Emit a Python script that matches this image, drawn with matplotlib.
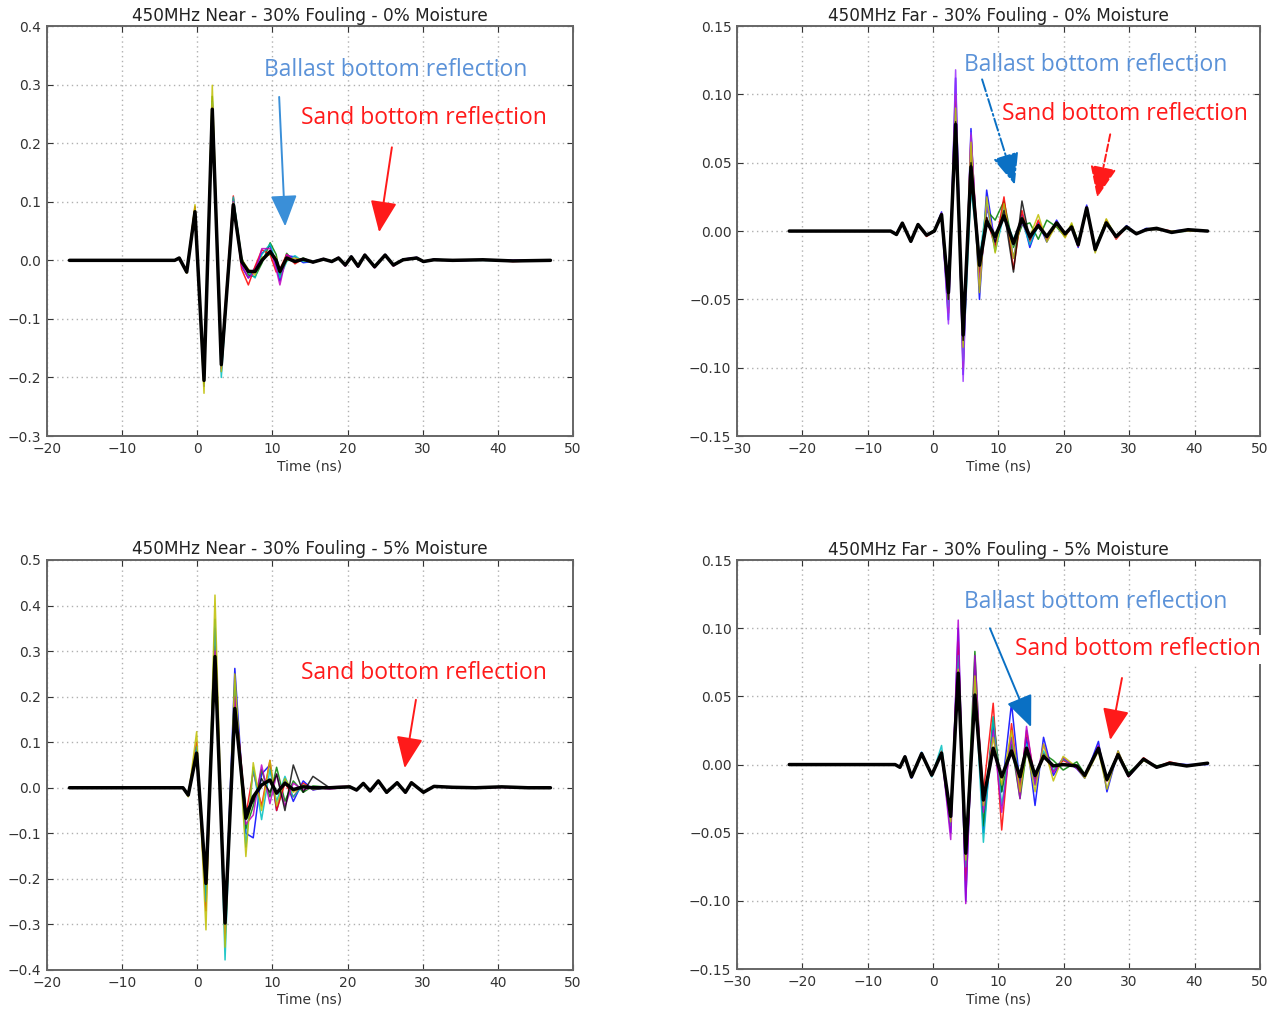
import matplotlib.pyplot as plt

# ---- data (time in ns, amplitude) ----

# 450MHz Near - 0% moisture
t_near0 = [-17, -3.0, -2.4, -1.4, -0.3, 0.9, 2.0, 3.2, 4.8, 5.9, 6.8, 7.7, 8.6, 9.7,
           10.5, 11.0, 11.9, 13.0, 14.1, 15.4, 16.8, 17.9, 18.8, 19.7, 20.5, 21.4,
           22.3, 23.6, 25.0, 26.1, 27.4, 29.2, 30.1, 31.5, 34, 38, 42, 47]
near0_mean = [0, 0, 0.004, -0.02, 0.083, -0.205, 0.258, -0.178, 0.095, -0.002, -0.019,
              -0.019, 0.0, 0.015, 0.0, -0.019, 0.004, -0.002, 0.002, -0.003, 0.002,
              -0.002, 0.004, -0.008, 0.006, -0.010, 0.009, -0.011, 0.009, -0.008,
              0.001, 0.004, -0.002, 0.001, 0.0, 0.001, -0.001, 0]
near0_traces = {
    "b": [0, 0, 0.003, -0.021, 0.088, -0.215, 0.272, -0.19, 0.10, -0.01, -0.03, -0.012,
          0.012, 0.025, -0.01, -0.035, 0.008, 0.006, -0.004, -0.002, 0.003, -0.003,
          0.005, -0.009, 0.007, -0.011, 0.010, -0.012, 0.010, -0.009, 0.002, 0.005,
          -0.003, 0.002, -0.001, 0.001, 0.0, 0],
    "g": [0, 0, 0.004, -0.019, 0.09, -0.21, 0.28, -0.185, 0.105, 0.005, -0.025, -0.028,
          -0.005, 0.03, 0.01, -0.025, 0.012, -0.004, 0.004, -0.004, 0.002, -0.001,
          0.004, -0.007, 0.006, -0.009, 0.008, -0.010, 0.008, -0.007, 0.002, 0.003,
          -0.002, 0.002, 0.0, 0.001, -0.001, 0],
    "r": [0, 0, 0.004, -0.02, 0.092, -0.2, 0.265, -0.17, 0.11, -0.015, -0.042, -0.01,
          0.018, 0.01, -0.02, -0.015, 0.01, -0.006, 0.003, -0.003, 0.003, -0.002,
          0.005, -0.009, 0.006, -0.011, 0.010, -0.012, 0.009, -0.009, 0.001, 0.004,
          -0.002, 0.001, 0.001, 0.001, -0.002, 0],
    "c": [0, 0, 0.004, -0.02, 0.085, -0.198, 0.27, -0.2, 0.108, 0.0, -0.02, -0.03,
          0.01, 0.028, -0.005, -0.03, -0.002, 0.008, -0.002, -0.002, 0.002, -0.002,
          0.004, -0.008, 0.007, -0.010, 0.009, -0.011, 0.009, -0.008, 0.002, 0.004,
          -0.003, 0.001, 0.0, 0.0, -0.001, 0],
    "m": [0, 0, 0.003, -0.021, 0.08, -0.205, 0.262, -0.185, 0.1, -0.008, -0.03, -0.02,
          0.02, 0.02, -0.015, -0.042, 0.01, 0.0, 0.003, -0.004, 0.003, -0.003,
          0.005, -0.010, 0.007, -0.012, 0.010, -0.013, 0.010, -0.010, 0.002, 0.005,
          -0.002, 0.002, -0.001, 0.001, 0.0, 0],
    "y": [0, 0, 0.004, -0.022, 0.095, -0.227, 0.299, -0.19, 0.098, 0.002, -0.015, -0.025,
          0.005, 0.01, 0.005, -0.02, 0.0, 0.004, 0.0, -0.003, 0.002, -0.002,
          0.004, -0.008, 0.006, -0.010, 0.009, -0.012, 0.009, -0.009, 0.001, 0.004,
          -0.002, 0.001, 0.0, 0.001, -0.001, 0],
}

# 450MHz Far - 0% moisture
t_far0 = [-22, -6.5, -5.6, -4.7, -3.4, -2.3, -1.0, 0.2, 1.3, 2.35, 3.45, 4.6, 5.8, 7.1,
          8.2, 9.5, 10.85, 12.3, 13.6, 14.8, 16.1, 17.4, 18.9, 20.2, 21.2, 22.2, 23.5,
          24.8, 26.5, 28.0, 29.6, 31.1, 32.6, 34.2, 36.5, 39, 42]
far0_mean = [0, 0, -0.0025, 0.0058, -0.0075, 0.0048, -0.003, 0.0, 0.012, -0.045, 0.078,
             -0.076, 0.047, -0.025, 0.007, -0.004, 0.011, -0.009, 0.009, -0.004, 0.004,
             -0.004, 0.006, -0.002, 0.003, -0.01, 0.017, -0.0135, 0.006, -0.004, 0.003,
             -0.002, 0.001, 0.002, -0.001, 0.001, 0]
far0_traces = {
    "b": [0, 0, -0.002, 0.005, -0.007, 0.004, -0.003, 0.0, 0.014, -0.065, 0.112, -0.105,
          0.075, -0.05, 0.03, -0.01, 0.02, -0.02, 0.012, -0.012, 0.006, -0.008, 0.008,
          -0.003, 0.004, -0.012, 0.019, -0.015, 0.007, -0.005, 0.004, -0.002, 0.002,
          0.001, 0, 0.001, 0],
    "g": [0, 0, -0.003, 0.006, -0.008, 0.005, -0.003, 0.001, 0.01, -0.05, 0.085, -0.09,
          0.055, -0.03, 0.015, 0.008, 0.022, -0.012, 0.004, 0.006, -0.006, 0.008, 0.003,
          -0.004, 0.005, -0.008, 0.015, -0.012, 0.008, -0.004, 0.003, -0.002, 0.001,
          0.002, -0.001, 0, 0],
    "r": [0, 0, -0.002, 0.006, -0.007, 0.005, -0.004, 0.0, 0.013, -0.06, 0.1, -0.1,
          0.07, -0.035, 0.01, -0.012, 0.025, -0.028, 0.015, -0.008, 0.008, -0.006, 0.005,
          -0.004, 0.003, -0.011, 0.016, -0.014, 0.008, -0.006, 0.003, -0.002, 0.001,
          0.002, 0, 0, 0],
    "c": [0, 0, -0.002, 0.005, -0.007, 0.005, -0.003, 0.0, 0.011, -0.055, 0.09, -0.095,
          0.03, -0.02, 0.02, -0.015, 0.012, -0.006, 0.008, -0.01, 0.004, -0.004, 0.006,
          -0.003, 0.003, -0.009, 0.016, -0.013, 0.006, -0.004, 0.002, -0.002, 0.001,
          0.001, 0, 0, 0],
    "#9b30ff": [0, 0, -0.002, 0.006, -0.008, 0.005, -0.003, 0.0, 0.012, -0.068, 0.118,
                -0.11, 0.072, -0.04, 0.018, -0.006, 0.012, -0.01, 0.006, -0.005, 0.004,
                -0.005, 0.007, -0.002, 0.003, -0.01, 0.018, -0.014, 0.007, -0.005, 0.003,
                -0.002, 0.001, 0.001, 0, 0, 0],
    "y": [0, 0, -0.002, 0.005, -0.007, 0.004, -0.003, 0.0, 0.01, -0.05, 0.09, -0.085,
          0.065, -0.045, 0.025, -0.016, 0.02, -0.02, 0.01, -0.004, 0.012, -0.008, 0.005,
          -0.005, 0.006, -0.009, 0.017, -0.016, 0.009, -0.005, 0.003, -0.002, 0.001,
          0.001, 0, 0, 0],
    "k": [0, 0, -0.002, 0.005, -0.007, 0.004, -0.003, 0.0, 0.012, -0.05, 0.08, -0.08,
          0.05, -0.02, 0.01, -0.008, 0.015, -0.03, 0.022, -0.006, 0.004, -0.004, 0.006,
          -0.002, 0.003, -0.01, 0.017, -0.013, 0.006, -0.004, 0.003, -0.002, 0.001,
          0.002, -0.001, 0.001, 0],
}

# 450MHz Near - 5% moisture
t_near5 = [-17, -1.9, -1.2, -0.08, 1.16, 2.36, 3.7, 5.0, 6.47, 7.45, 8.56, 9.67, 10.56,
           11.67, 12.78, 14.1, 15.4, 17.6, 20.3, 21.2, 22.1, 23.0, 24.1, 25.2, 26.6,
           27.7, 28.5, 30.1, 31.5, 34, 37, 40.5, 44, 47]
near5_mean = [0, 0, -0.016, 0.076, -0.21, 0.288, -0.297, 0.174, -0.067, -0.02, 0.006,
              0.017, -0.012, 0.01, -0.004, 0.002, 0.0, 0.0, 0.002, -0.005, 0.0095,
              -0.007, 0.015, -0.01, 0.011, -0.01, 0.011, -0.01, 0.003, 0.001, 0.0,
              0.002, 0.0, 0]
near5_traces = {
    "b": [0, 0, -0.018, 0.08, -0.22, 0.3, -0.31, 0.262, -0.1, -0.11, 0.03, 0.05, -0.05,
          0.02, -0.03, 0.015, -0.005, 0.002, 0.003, -0.006, 0.01, -0.008, 0.014, -0.012,
          0.012, -0.011, 0.01, -0.01, 0.004, 0.0, 0.001, 0.001, 0, 0],
    "g": [0, 0, -0.015, 0.085, -0.23, 0.31, -0.3, 0.22, -0.09, -0.04, 0.04, -0.02,
          0.045, -0.03, 0.015, -0.01, 0.004, 0.001, 0.002, -0.005, 0.009, -0.007, 0.014,
          -0.011, 0.01, -0.01, 0.01, -0.009, 0.003, 0.001, 0.0, 0.002, 0, 0],
    "r": [0, 0, -0.017, 0.1, -0.27, 0.35, -0.33, 0.21, -0.06, 0.035, -0.04, 0.06, -0.05,
          0.01, -0.02, 0.01, -0.004, 0.002, 0.003, -0.006, 0.01, -0.008, 0.016, -0.011,
          0.012, -0.011, 0.012, -0.011, 0.004, 0.0, 0.001, 0.001, 0, 0],
    "c": [0, 0, -0.016, 0.09, -0.25, 0.37, -0.378, 0.23, -0.13, 0.045, -0.07, 0.04,
          -0.03, 0.025, -0.02, 0.006, -0.003, 0.001, 0.002, -0.005, 0.009, -0.007, 0.015,
          -0.01, 0.011, -0.01, 0.011, -0.01, 0.003, 0.001, 0.0, 0.002, 0, 0],
    "m": [0, 0, -0.014, 0.078, -0.2, 0.3, -0.32, 0.2, -0.08, -0.06, 0.05, -0.035, 0.03,
          -0.04, 0.01, -0.005, 0.002, -0.003, 0.002, -0.006, 0.009, -0.008, 0.014, -0.011,
          0.011, -0.011, 0.011, -0.01, 0.003, 0.001, 0.0, 0.001, 0, 0],
    "y": [0, 0, -0.02, 0.123, -0.312, 0.423, -0.35, 0.25, -0.151, 0.055, -0.05, 0.06,
          -0.04, 0.02, -0.01, 0.005, -0.002, 0.0, 0.003, -0.005, 0.011, -0.008, 0.016,
          -0.012, 0.012, -0.011, 0.012, -0.011, 0.004, 0.001, 0.0, 0.002, 0, 0],
    "k": [0, 0, -0.016, 0.075, -0.2, 0.28, -0.29, 0.17, -0.05, -0.03, 0.02, -0.01, 0.03,
          -0.05, 0.05, -0.01, 0.025, 0.0, 0.002, -0.005, 0.009, -0.007, 0.015, -0.01,
          0.011, -0.01, 0.011, -0.01, 0.003, 0.001, 0.0, 0.002, 0, 0],
}

# 450MHz Far - 5% moisture
t_far5 = [-22, -5.8, -5.07, -4.3, -3.3, -1.75, -0.2, 1.3, 2.7, 3.85, 5.0, 6.4, 7.7, 9.2,
          10.5, 12.0, 13.3, 14.3, 15.6, 16.9, 18.4, 19.9, 22.0, 23.2, 25.3, 26.6, 28.3,
          29.9, 32.2, 34.2, 36.2, 38.8, 42]
far5_mean = [0, 0, -0.002, 0.0057, -0.009, 0.008, -0.0077, 0.0084, -0.038, 0.067, -0.065,
             0.051, -0.026, 0.012, -0.009, 0.01, -0.009, 0.012, -0.008, 0.006, -0.001,
             0.0, -0.001, -0.008, 0.012, -0.011, 0.0073, -0.008, 0.004, -0.002, 0.001,
             -0.001, 0.001]
far5_traces = {
    "b": [0, 0, -0.002, 0.006, -0.01, 0.009, -0.008, 0.009, -0.05, 0.1, -0.1, 0.075,
          -0.05, 0.03, -0.02, 0.045, -0.015, 0.02, -0.03, 0.02, -0.008, 0.004, -0.003,
          -0.01, 0.017, -0.02, 0.01, -0.009, 0.004, -0.002, 0.001, 0, 0],
    "g": [0, 0, -0.002, 0.005, -0.008, 0.007, -0.008, 0.009, -0.04, 0.075, -0.07, 0.083,
          -0.045, 0.035, -0.02, 0.015, -0.025, 0.01, -0.01, 0.008, 0.003, -0.004, 0.002,
          -0.007, 0.011, -0.01, 0.008, -0.006, 0.003, -0.001, 0.001, -0.001, 0.001],
    "r": [0, 0, -0.002, 0.006, -0.009, 0.008, -0.008, 0.01, -0.045, 0.09, -0.085, 0.06,
          -0.02, 0.045, -0.048, 0.03, -0.02, 0.025, -0.012, 0.008, -0.005, 0.003, -0.002,
          -0.009, 0.013, -0.012, 0.009, -0.009, 0.005, -0.002, 0.002, -0.001, 0.001],
    "c": [0, 0, -0.002, 0.006, -0.009, 0.009, -0.009, 0.014, -0.045, 0.08, -0.075, 0.06,
          -0.057, 0.035, -0.03, 0.02, -0.01, 0.015, -0.015, 0.01, -0.004, 0.004, -0.002,
          -0.008, 0.012, -0.01, 0.008, -0.008, 0.004, -0.002, 0.001, -0.001, 0.001],
    "#b000d0": [0, 0, -0.002, 0.006, -0.009, 0.008, -0.008, 0.009, -0.055, 0.106, -0.102,
                0.08, -0.035, 0.025, -0.035, 0.02, -0.025, 0.028, -0.015, 0.015, -0.006,
                0.005, -0.003, -0.009, 0.014, -0.012, 0.009, -0.008, 0.004, -0.002,
                0.001, -0.001, 0.001],
    "y": [0, 0, -0.002, 0.005, -0.009, 0.007, -0.007, 0.009, -0.042, 0.07, -0.07, 0.065,
          -0.03, 0.02, -0.015, 0.025, -0.02, 0.012, -0.02, 0.015, -0.012, 0.006, -0.002,
          -0.01, 0.01, -0.018, 0.01, -0.008, 0.003, -0.002, 0.001, -0.001, 0.001],
}

panels = [
    ("450MHz Near - 30% Fouling - 0% Moisture", t_near0, near0_mean, near0_traces,
     (-20, 50), (-0.3, 0.4), 0.1),
    ("450MHz Far - 30% Fouling - 0% Moisture", t_far0, far0_mean, far0_traces,
     (-30, 50), (-0.15, 0.15), 0.05),
    ("450MHz Near - 30% Fouling - 5% Moisture", t_near5, near5_mean, near5_traces,
     (-20, 50), (-0.4, 0.5), 0.1),
    ("450MHz Far - 30% Fouling - 5% Moisture", t_far5, far5_mean, far5_traces,
     (-30, 50), (-0.15, 0.15), 0.05),
]

colour_map = {"b": "#0000ff", "g": "#008000", "r": "#ff0000", "c": "#00bfbf",
              "m": "#bf00bf", "y": "#bfbf00", "k": "#000000"}

fig = plt.figure(figsize=(12.83, 10.11), dpi=100)
rects = [
    [0.0366, 0.5687, 0.410, 0.4055],
    [0.5744, 0.5687, 0.4076, 0.4055],
    [0.0366, 0.0406, 0.410, 0.4055],
    [0.5744, 0.0415, 0.4076, 0.4045],
]

axes = []
for rect, (title, t, mean, traces, xlim, ylim, ystep) in zip(rects, panels):
    ax = fig.add_axes(rect)
    for c, vals in traces.items():
        ax.plot(t, vals, color=colour_map.get(c, c), lw=1.1,
                alpha=0.85 if c != "k" else 0.8, solid_joinstyle="round")
    ax.plot(t, mean, color="black", lw=2.5, zorder=5, solid_joinstyle="round",
            solid_capstyle="round")

    ax.set_xlim(*xlim)
    ax.set_ylim(*ylim)
    ax.set_xticks(range(xlim[0], xlim[1] + 1, 10))
    nt = int(round((ylim[1] - ylim[0]) / ystep))
    yt = [round(ylim[0] + i * ystep, 2) for i in range(nt + 1)]
    ax.set_yticks(yt)
    if ystep < 0.1:
        ax.set_yticklabels([f"{v:.2f}".replace("-", "\u2212") for v in yt])
    else:
        ax.set_yticklabels([f"{v:.1f}".replace("-", "\u2212") for v in yt])

    ax.grid(True, color="#b0b0b0", linestyle=(0, (1, 2.5)), lw=1.0)
    ax.tick_params(direction="in", length=4, width=0.8, labelsize=10,
                   colors="#333333", pad=4, top=True, right=True)
    for s in ax.spines.values():
        s.set_color("#666666")
        s.set_linewidth(1.4)
    ax.set_title(title, fontsize=12.2, color="#222222", pad=4)
    ax.set_xlabel("Time (ns)", fontsize=10, color="#333333", labelpad=2.5)
    axes.append(ax)

blue_txt = "#5b92d8"
blue_arr = "#0a70c4"
red_c = "#ff1a1a"
tfont = dict(family="Open Sans", fontsize=16.5)

def arrow(ax, tail, tip, col, ls="-"):
    ax.annotate("", xy=tip, xytext=tail,
                arrowprops=dict(arrowstyle="-|>,head_width=0.55,head_length=1.3",
                                color=col, lw=1.4, linestyle=ls,
                                mutation_scale=15, shrinkA=0, shrinkB=0),
                zorder=10)

ax1, ax2, ax3, ax4 = axes
ax1.text(26.4, 0.325, "Ballast bottom reflection", color=blue_txt, ha="center",
         va="center", **tfont)
ax1.text(30.2, 0.243, "Sand bottom reflection", color=red_c, ha="center",
         va="center", **tfont)
arrow(ax1, (10.9, 0.279), (11.7, 0.058), "#3a8fd8")
arrow(ax1, (25.9, 0.193), (24.2, 0.048), red_c)

ax2.text(24.9, 0.1215, "Ballast bottom reflection", color=blue_txt, ha="center",
         va="center", **tfont)
ax2.text(29.4, 0.0855, "Sand bottom reflection", color=red_c, ha="center",
         va="center", **tfont)
arrow(ax2, (7.5, 0.111), (12.5, 0.034), blue_arr, ls="-.")
arrow(ax2, (27.1, 0.0708), (25.1, 0.0246), red_c, ls="--")

ax3.text(30.2, 0.253, "Sand bottom reflection", color=red_c, ha="center",
         va="center", **tfont)
arrow(ax3, (29.1, 0.193), (27.6, 0.043), red_c)

ax4.text(24.9, 0.1195, "Ballast bottom reflection", color=blue_txt, ha="center",
         va="center", **tfont)
ax4.text(31.4, 0.0845, "Sand bottom reflection", color=red_c, ha="center",
         va="center", clip_on=False, zorder=12,
         bbox=dict(facecolor="white", edgecolor="none", pad=2), **tfont)
arrow(ax4, (8.7, 0.100), (15.0, 0.0275), blue_arr)
arrow(ax4, (28.9, 0.0635), (27.1, 0.018), red_c)

fig.savefig("out.png", dpi=100, facecolor="white")
